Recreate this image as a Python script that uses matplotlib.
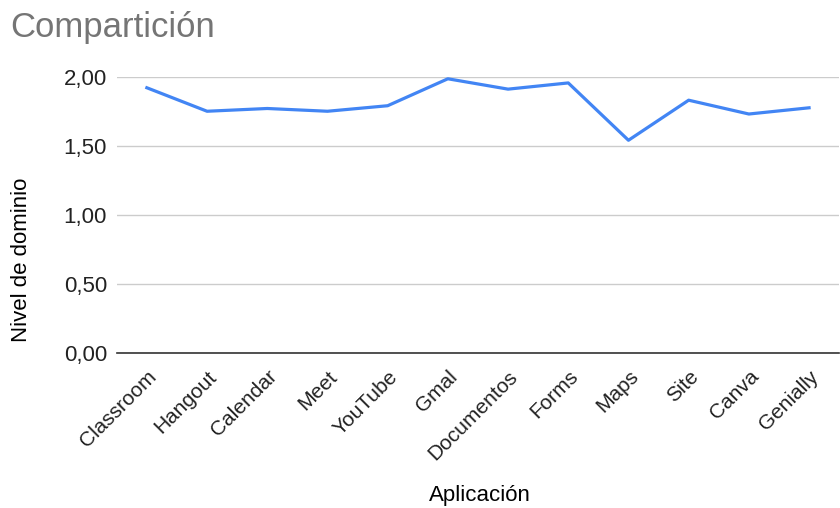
import numpy as np
import matplotlib.pyplot as plt

plt.rcParams['font.family'] = ['Liberation Sans', 'DejaVu Sans']

# data
apps = ['Classroom', 'Hangout', 'Calendar', 'Meet', 'YouTube', 'Gmal',
        'Documentos', 'Forms', 'Maps', 'Site', 'Canva', 'Genially']
nivel = [1.92, 1.75, 1.77, 1.75, 1.79, 1.985, 1.91, 1.955, 1.54, 1.83, 1.73, 1.775]
yticks = [0.0, 0.5, 1.0, 1.5, 2.0]
ytick_labels = ['0,00', '0,50', '1,00', '1,50', '2,00']

fig = plt.figure(figsize=(8.4, 5.08), dpi=100)
ax = fig.add_axes([0.139, 0.305, 0.86, 0.544])

x = np.arange(len(apps))
ax.plot(x, nivel, color='#4285F4', linewidth=2.3, solid_joinstyle='round', zorder=3)

ax.set_xlim(-0.5, len(apps) - 0.5)
ax.set_ylim(0, 2.0)
ax.set_yticks(yticks)
ax.set_yticklabels(ytick_labels, fontsize=16)
ax.set_xticks(x)
ax.set_xticklabels(apps, rotation=45, ha='right', rotation_mode='anchor', fontsize=15)

ax.grid(axis='y', color='#cccccc', linewidth=1)
ax.set_axisbelow(True)
for s in ['top', 'right', 'left']:
    ax.spines[s].set_visible(False)
ax.spines['bottom'].set_color('#333333')
ax.spines['bottom'].set_linewidth(1.2)
ax.spines['bottom'].set_zorder(2)
ax.tick_params(axis='y', length=0, pad=7, colors='#222222')
ax.tick_params(axis='x', length=0, pad=10, colors='#222222')

fig.text(480 / 840, 1 - 496 / 508, 'Aplicación', fontsize=16, ha='center', va='center')
fig.text(22 / 840, 1 - 260 / 508, 'Nivel de dominio', fontsize=16, rotation=90,
         ha='center', va='center')

fig.text(10 / 840, 1 - 28 / 508, 'Compartición', fontsize=25, color='#757575', va='center', ha='left')

fig.savefig('out.png', dpi=100)
